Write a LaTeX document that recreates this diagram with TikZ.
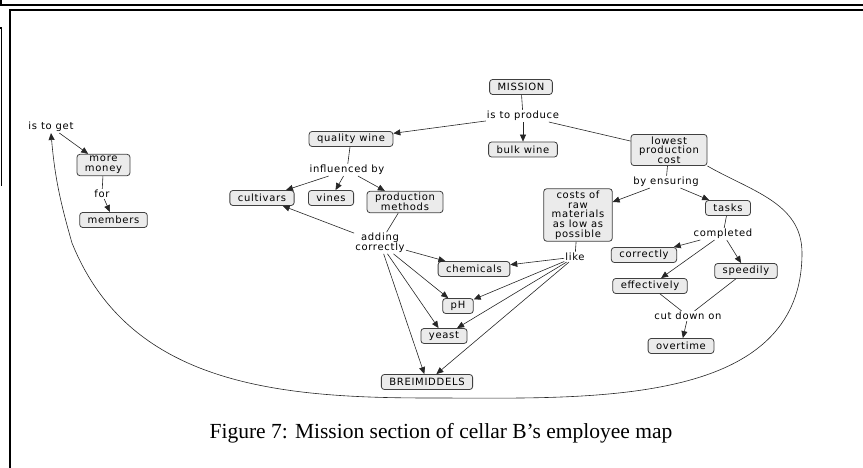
\documentclass[tikz,border=0pt]{standalone}
\usepackage{fontspec}
\setmainfont{Liberation Serif}
\newfontfamily\mapfont[LetterSpace=7]{DejaVu Sans}
\usetikzlibrary{arrows.meta}
\tikzset{
  concept/.style={draw=black!75, fill=black!8, rounded corners=3pt, line width=0.8pt,
    inner xsep=8pt, inner ysep=2pt, minimum height=15pt, align=center,
    font=\mapfont\fontsize{10}{9.7}\selectfont},
  linkword/.style={inner sep=1pt, align=center, font=\mapfont\fontsize{10}{9.7}\selectfont},
  link/.style={draw=black!85, line width=0.6pt},
  frame/.style={line width=1.7pt},
  >={Triangle[length=7pt,width=6pt]}
}
\begin{document}
\begin{tikzpicture}[x=1pt,y=1pt]
  \useasboundingbox (0,0) rectangle (863,468);
  % page frames
  \draw[frame] (0.85,468) -- (0.85,463.2) -- (863,463.2);
  \draw[frame] (10,0) -- (10,458) -- (863,458);
  \draw[line width=1.5pt] (0,440) -- (1.5,440) -- (1.5,282);
  % concepts
  \node[concept] (mission) at (521,381) {MISSION};
  \node[linkword] (produce) at (523,352) {is to produce};
  \node[concept] (bulk) at (523,318.5) {bulk wine};
  \node[concept] (quality) at (351,329) {quality wine};
  \node[concept] (lpc) at (669,318) {lowest\\production\\cost};
  \node[linkword] (influenced) at (347,298) {influenced by};
  \node[concept] (cultivars) at (262,270) {cultivars};
  \node[concept] (vines) at (331,270) {vines};
  \node[concept] (methods) at (405,266) {production\\methods};
  \node[linkword] (ensuring) at (666,286) {by ensuring};
  \node[concept] (costs) at (578,253) {costs of\\raw\\materials\\as low as\\possible};
  \node[concept] (tasks) at (728,260) {tasks};
  \node[linkword] (completed) at (723,234) {completed};
  \node[linkword] (adding) at (380,225) {adding\\correctly};
  \node[linkword] (like) at (575,211) {like};
  \node[concept] (chemicals) at (474,199) {chemicals};
  \node[concept] (correctly) at (644,213) {correctly};
  \node[concept] (speedily) at (746,197) {speedily};
  \node[concept] (effectively) at (650,182) {effectively};
  \node[concept] (ph) at (458,162) {pH};
  \node[concept] (yeast) at (444,132) {yeast};
  \node[concept] (breim) at (427,86) {BREIMIDDELS};
  \node[linkword] (cutdown) at (688,152) {cut down on};
  \node[concept] (overtime) at (681,122) {overtime};
  \node[linkword] (toget) at (51,341) {is to get};
  \node[concept] (money) at (103.5,303) {more\\money};
  \node[linkword] (for) at (102,274) {for};
  \node[concept] (members) at (113.5,248) {members};
  % links
  \draw[link] (mission) -- (produce);
  \draw[link] (produce) -- (lpc);
  \foreach \t in {quality,bulk}
    \draw[link,->] (produce) -- (\t);
  \draw[link] (quality) -- (influenced);
  \foreach \t in {cultivars,vines,methods}
    \draw[link,->] (influenced) -- (\t);
  \draw[link] (methods) -- (adding);
  \foreach \t in {cultivars,chemicals,ph,yeast,breim}
    \draw[link,->] (adding) -- (\t);
  \draw[link] (lpc) -- (ensuring);
  \foreach \t in {costs,tasks}
    \draw[link,->] (ensuring) -- (\t);
  \draw[link] (costs) -- (like);
  \foreach \t in {chemicals,ph,yeast,breim}
    \draw[link,->] (like) -- (\t);
  \draw[link] (tasks) -- (completed);
  \foreach \t in {correctly,effectively,speedily}
    \draw[link,->] (completed) -- (\t);
  \foreach \s in {effectively,speedily}
    \draw[link] (\s) -- (cutdown);
  \draw[link,->] (cutdown) -- (overtime);
  \draw[link,->] (toget) -- (money);
  \draw[link] (money) -- (for);
  \draw[link,->] (for) -- (members);
  % long link back to the left
  \coordinate (bendR) at (802,215);
  \coordinate (bendB) at (430,70);
  \coordinate (bendL) at (72,225);
  \draw[link,->] (lpc.south east) to[out=-30,in=90] (bendR) to[out=-90,in=0] (bendB)
    to[out=180,in=-68] (bendL) to[out=106,in=-85] (toget.south);
  % caption
  \node[font=\fontsize{21.5}{24}\selectfont] (caption) at (441,35)
    {Figure 7: Mission section of cellar B’s employee map};
\end{tikzpicture}
\end{document}
